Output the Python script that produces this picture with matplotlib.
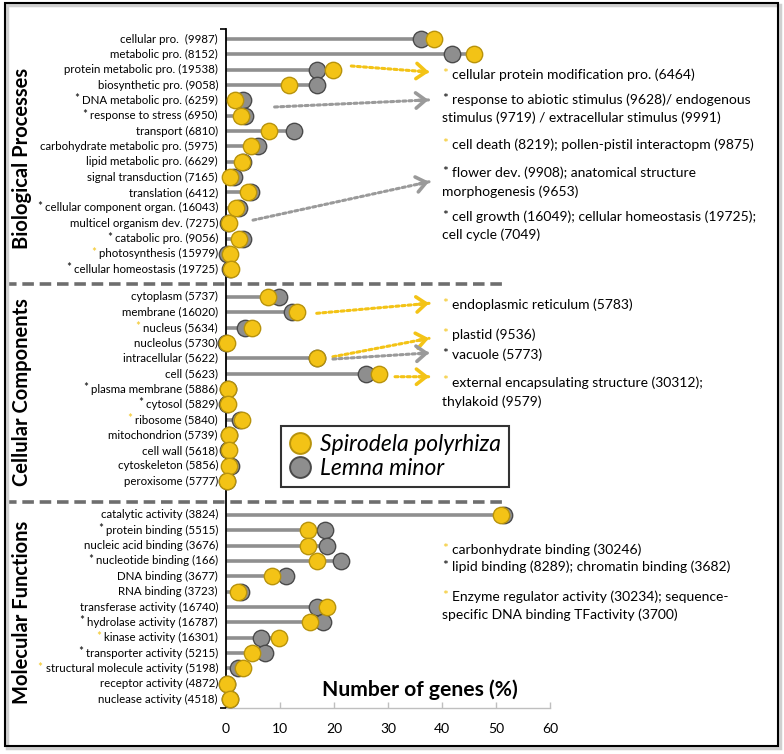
import matplotlib
matplotlib.use('Agg')
import matplotlib.pyplot as plt
from matplotlib.lines import Line2D
from matplotlib.patches import Rectangle
import matplotlib.transforms as mtransforms
import numpy as np

plt.rcParams['font.family'] = ['Lato', 'DejaVu Sans']

# ---------------- data ----------------
bp_labels = ["cellular pro.  (9987)", "metabolic pro. (8152)", "protein metabolic pro. (19538)",
             "biosynthetic pro. (9058)", "DNA metabolic pro. (6259)", "response to stress (6950)",
             "transport (6810)", "carbohydrate metabolic pro. (5975)", "lipid metabolic pro. (6629)",
             "signal transduction (7165)", "translation (6412)", "cellular component organ. (16043)",
             "multicel organism dev. (7275)", "catabolic pro. (9056)", "photosynthesis (15979)",
             "cellular homeostasis (19725)"]
bp_star = ["", "", "", "", "k", "k", "", "", "", "", "", "k", "", "k", "y", "k"]
bp_spirodela = [38.5, 45.9, 19.8, 11.6, 1.7, 2.7, 7.9, 4.7, 2.9, 0.8, 4.1, 1.9, 0.5, 2.4, 0.8, 0.9]
bp_lemna = [36.1, 41.8, 16.9, 16.9, 3.1, 3.6, 12.6, 6.0, 3.2, 1.4, 4.7, 2.4, 0.3, 3.1, 0.1, 0.8]

cc_labels = ["cytoplasm (5737)", "membrane (16020)", "nucleus (5634)", "nucleolus (5730)",
             "intracellular (5622)", "cell (5623)", "plasma membrane (5886)", "cytosol (5829)",
             "ribosome (5840)", "mitochondrion (5739)", "cell wall (5618)", "cytoskeleton (5856)",
             "peroxisome (5777)"]
cc_star = ["", "", "y", "", "", "", "k", "k", "y", "", "", "", ""]
cc_spirodela = [7.7, 13.1, 4.8, 0.1, 16.9, 28.3, 0.4, 0.3, 2.9, 0.6, 0.5, 0.6, 0.2]
cc_lemna = [9.8, 12.2, 3.6, 0.0, 16.8, 25.9, 0.3, 0.2, 2.6, 0.5, 0.4, 0.9, 0.1]

mf_labels = ["catalytic activity (3824)", "protein binding (5515)", "nucleic acid binding (3676)",
             "nucleotide binding (166)", "DNA binding (3677)", "RNA binding (3723)",
             "transferase activity (16740)", "hydrolase activity (16787)", "kinase activity (16301)",
             "transporter activity (5215)", "structural molecule activity (5198)",
             "receptor activity (4872)", "nuclease activity (4518)"]
mf_star = ["", "k", "", "k", "", "", "", "k", "y", "k", "y", "", ""]
mf_spirodela = [51.0, 15.1, 15.1, 16.8, 8.5, 2.3, 18.7, 15.6, 9.8, 4.8, 3.2, 0.2, 0.8]
mf_lemna = [51.4, 18.4, 18.7, 21.3, 11.2, 2.7, 16.8, 17.9, 6.5, 7.3, 2.2, 0.1, 0.7]

section_names = ["Biological Processes", "Cellular Components", "Molecular Functions"]
series_names = ["Spirodela polyrhiza", "Lemna minor"]
x_ticks = [0, 10, 20, 30, 40, 50, 60]
x_label = "Number of genes (%)"

note_stars = ["y", "k", "y", "k", "k", "y", "y", "k", "y", "y", "k", "y"]
note_lines = [
    ["cellular protein modification pro. (6464)"],
    ["response to abiotic stimulus (9628)/ endogenous", "stimulus (9719) / extracellular stimulus (9991)"],
    ["cell death (8219); pollen-pistil interactopm (9875)"],
    ["flower dev. (9908); anatomical structure", "morphogenesis (9653)"],
    ["cell growth (16049); cellular homeostasis (19725);", "cell cycle (7049)"],
    ["endoplasmic reticulum (5783)"],
    ["plastid (9536)"],
    ["vacuole (5773)"],
    ["external encapsulating structure (30312);", "thylakoid (9579)"],
    ["carbonhydrate binding (30246)"],
    ["lipid binding (8289); chromatin binding (3682)"],
    ["Enzyme regulator activity (30234); sequence-", "specific DNA binding TFactivity (3700)"],
]

# ---------------- layout ----------------
W, H = 784, 754
YEL = '#F3C316'
YEL_E = '#B8930C'
GRY = '#8E8E8E'
GRY_E = '#4A4A4A'
STEM = '#8F8F8F'
STAR_Y = '#F2C318'

section_offsets = [0.0, 16.8, 31.0]
separators = [15.96, 30.16]
note_y = [[2.35], [3.97, 5.15], [6.9], [8.73, 9.97], [11.6, 12.77], [17.33], [19.28], [20.59],
          [22.4, 23.65], [33.3], [34.4], [36.35, 37.5]]
arrows = [  # (color, start(x,y), end(x,y)) in data units
    (YEL, (23.2, 1.76), (37.6, 2.15)),
    ('#9A9A9A', (9.0, 4.43), (37.5, 3.97)),
    ('#9A9A9A', (5.0, 11.8), (37.6, 9.3)),
    (YEL, (16.8, 17.87), (37.6, 17.22)),
    (YEL, (19.8, 20.7), (37.6, 19.5)),
    ('#9A9A9A', (19.8, 20.85), (37.6, 20.45)),
    (YEL, (31.3, 22.0), (37.6, 22.0)),
]

fig = plt.figure(figsize=(W / 100, H / 100), dpi=100)
ax = fig.add_axes([226 / W, 1 - 708 / H, 324 / W, 679 / H])
ax.set_xlim(0, 60)
ax.set_ylim(43.58, -0.65)

lab_tr = ax.transData + mtransforms.ScaledTranslation(-0.08, 0, fig.dpi_scale_trans)

sections = [(bp_labels, bp_star, bp_spirodela, bp_lemna),
            (cc_labels, cc_star, cc_spirodela, cc_lemna),
            (mf_labels, mf_star, mf_spirodela, mf_lemna)]

for (labels, stars, sp, lm), off in zip(sections, section_offsets):
    ys = off + np.arange(len(labels))
    sp = np.array(sp); lm = np.array(lm)
    ax.hlines(ys, 0, np.maximum(sp, lm), color=STEM, lw=2.6, zorder=1)
    ax.plot(lm, ys, 'o', ms=11.8, mfc=GRY, mec=GRY_E, mew=1.0, ls='none', zorder=3, clip_on=False)
    ax.plot(sp, ys, 'o', ms=11.8, mfc=YEL, mec=YEL_E, mew=1.0, ls='none', zorder=4, clip_on=False)
    for y, lab, st in zip(ys, labels, stars):
        t = ax.text(0, y, lab, transform=lab_tr, ha='right', va='center', fontsize=8.3)
        if st:
            ax.annotate('*', xy=(0, 0.5), xycoords=t, xytext=(-2, 1), textcoords='offset points',
                        ha='right', va='center', fontsize=8.3,
                        color=(STAR_Y if st == 'y' else 'black'))

# section titles
sec_centers = [158, 392, 612]
for name, cy in zip(section_names, sec_centers):
    fig.text(22 / W, 1 - cy / H, name, rotation=90, fontsize=14.5, fontweight='bold',
             ha='center', va='center')

# separators
btr = mtransforms.blended_transform_factory(fig.transFigure, ax.transData)
for s in separators:
    ax.add_line(Line2D([5 / W, 502 / W], [s, s], transform=btr, color='#6E6E6E', lw=2.6,
                       ls=(0, (3.2, 1.6)), clip_on=False))

# spines / ticks
for sp_ in ['top', 'right']:
    ax.spines[sp_].set_visible(False)
ax.spines['left'].set_color('black')
ax.spines['left'].set_linewidth(1.3)
ax.spines['bottom'].set_color('#BFBFBF')
ax.spines['bottom'].set_linewidth(1.0)
ax.set_yticks([-0.65, 43.58])
ax.set_yticklabels([])
ax.tick_params(axis='y', length=4, width=1.2, color='black', direction='out')
ax.set_xticks(x_ticks)
ax.set_xticklabels([str(v) for v in x_ticks], fontsize=10)
ax.tick_params(axis='x', length=4, width=1, color='#BFBFBF', direction='in', pad=11)
ax.text((420 - 226) / 324, (708 - 690) / 679, x_label, transform=ax.transAxes,
        fontsize=15.2, fontweight='bold', ha='center', va='center')

# arrows
for col, st, en in arrows:
    ax.annotate('', xy=en, xytext=st,
                arrowprops=dict(arrowstyle='-', linestyle=(0, (1, 1)), lw=2.2, color=col,
                                shrinkA=0, shrinkB=0), annotation_clip=False)
    dx = (en[0] - st[0]) * 5.406
    dy = -(en[1] - st[1]) * 15.35
    n = np.hypot(dx, dy)
    ax.annotate('', xy=en, xytext=(-7 * dx / n, -7 * dy / n), textcoords='offset points',
                arrowprops=dict(arrowstyle='->,head_length=0.7,head_width=0.55', lw=2.6,
                                color=col, shrinkA=0, shrinkB=0), annotation_clip=False)

# notes on right
xtext = (452 - 226) / 5.406
xcont = (442 - 226) / 5.406
for st, lines, ys in zip(note_stars, note_lines, note_y):
    for i, (ln, y) in enumerate(zip(lines, ys)):
        t = ax.text(xtext if i == 0 else xcont, y, ln, ha='left', va='center', fontsize=10.0,
                    clip_on=False)
        if i == 0:
            ax.annotate('*', xy=(0, 0.5), xycoords=t, xytext=(-3, 1), textcoords='offset points',
                        ha='right', va='center', fontsize=10.0,
                        color=(STAR_Y if st == 'y' else 'black'))

# legend
handles = [Line2D([], [], marker='o', ls='none', ms=15, mfc=YEL, mec=YEL_E, mew=1.4),
           Line2D([], [], marker='o', ls='none', ms=15, mfc=GRY, mec=GRY_E, mew=1.4)]
leg = fig.legend(handles, series_names, loc='upper left', bbox_to_anchor=(281 / W, 1 - 426 / H),
                 bbox_transform=fig.transFigure, prop=dict(family='Lato', style='italic', size=16.5),
                 frameon=True, fancybox=False, edgecolor='black', borderpad=0.35, handletextpad=0.35,
                 labelspacing=0.12, handlelength=1.0, borderaxespad=0)
leg.get_frame().set_linewidth(1.5)

# outer frame
fig.patches.append(Rectangle((7 / W, 6 / H), 773 / W, 743 / H, transform=fig.transFigure,
                             fill=False, ec='#D0D0D0', lw=2.5))
fig.patches.append(Rectangle((5 / W, 8 / H), 773 / W, 743 / H, transform=fig.transFigure,
                             fill=False, ec='black', lw=1.5))

fig.savefig('out.png', dpi=100)
